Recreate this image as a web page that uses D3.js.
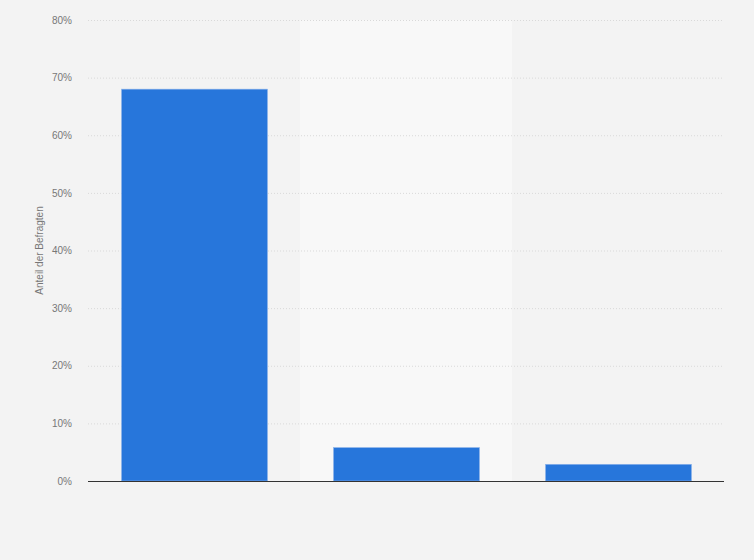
<!DOCTYPE html>
<html>
<head>
<meta charset="utf-8">
<script src="https://cdn.jsdelivr.net/npm/d3@7"></script>
<style>
html,body{margin:0;padding:0;background:#f3f3f3;}
svg{display:block;}
text{font-family:"Liberation Sans",Arial,sans-serif;}
</style>
</head>
<body>
<svg id="chart" width="754" height="560"></svg>
<script>
const categories = ["Kategorie 1", "Kategorie 2", "Kategorie 3"];
const values = [68, 5.8, 2.9];
const yTicks = [0, 10, 20, 30, 40, 50, 60, 70, 80];
const yTitle = "Anteil der Befragten";

const W = 754, H = 560;
const m = {top: 20, right: 30, bottom: 79, left: 88};
const svg = d3.select("#chart");
svg.append("rect").attr("width", W).attr("height", H).attr("fill", "#f3f3f3");

const x = d3.scaleBand().domain(categories).range([m.left, W - m.right]).paddingInner(0).paddingOuter(0);
const y = d3.scaleLinear().domain([0, 80]).range([H - m.bottom, m.top]);

// alternating bands
svg.append("g").selectAll("rect").data(categories.filter((d, i) => i % 2 === 1)).join("rect")
  .attr("x", d => x(d)).attr("y", m.top)
  .attr("width", x.bandwidth()).attr("height", y(0) - m.top)
  .attr("fill", "#f8f8f8");

// grid
const yAxis = d3.axisLeft(y).tickValues(yTicks).tickFormat(d => d + "%").tickSize(0).tickPadding(16);
const gy = svg.append("g").attr("transform", `translate(${m.left},0)`).call(yAxis);
gy.select(".domain").remove();
gy.selectAll("text").attr("fill", "#777").attr("font-size", 10);
gy.selectAll(".tick").append("line")
  .attr("x1", 0).attr("x2", W - m.right - m.left)
  .attr("stroke", "#d9d9d9").attr("stroke-dasharray", "1,2");

// bars
const bw = 146;
svg.append("g").selectAll("rect").data(values).join("rect")
  .attr("x", (d, i) => x(categories[i]) + (x.bandwidth() - bw) / 2 + 0.5)
  .attr("y", d => y(d))
  .attr("width", bw)
  .attr("height", d => y(0) - y(d))
  .attr("fill", "#2776db")
  .attr("stroke", "#8fb5ea").attr("stroke-width", 0.6);

// x axis
svg.append("line")
  .attr("x1", m.left).attr("x2", W - m.right)
  .attr("y1", y(0) + 0.5).attr("y2", y(0) + 0.5)
  .attr("stroke", "#333").attr("stroke-width", 1.2);

// y title
svg.append("text")
  .attr("transform", `translate(43,${(m.top + y(0)) / 2}) rotate(-90)`)
  .attr("text-anchor", "middle")
  .attr("fill", "#777").attr("font-size", 10)
  .text(yTitle);
</script>
</body>
</html>
